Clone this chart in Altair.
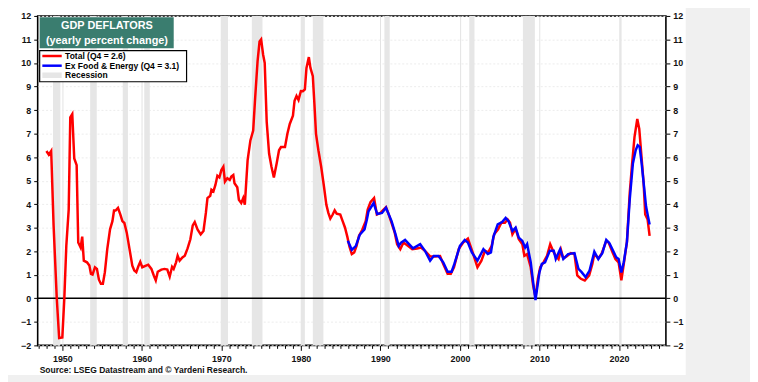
import altair as alt
import pandas as pd

# ---------------- data ----------------
total_year = [1948.0, 1948.3, 1948.6, 1948.9, 1949.3, 1949.6, 1950.0, 1950.25, 1950.5, 1950.8,
              1951.0, 1951.25, 1951.5, 1951.8, 1952.0, 1952.3, 1952.5, 1952.7, 1953.1, 1953.4,
              1953.6, 1953.8, 1954.1, 1954.35, 1954.6, 1954.85, 1955.1, 1955.35, 1955.65, 1956.0,
              1956.3, 1956.5, 1956.7, 1957.0, 1957.3, 1957.55, 1957.8, 1958.1, 1958.45, 1958.8,
              1959.05, 1959.3, 1959.55, 1959.8, 1960.05, 1960.45, 1960.8, 1961.2, 1961.5, 1961.75,
              1962.0, 1962.45, 1962.85, 1963.2, 1963.5, 1963.8, 1964.0, 1964.3, 1964.5, 1964.75,
              1965.1, 1965.4, 1965.75, 1966.1, 1966.4, 1966.65, 1967.0, 1967.4, 1967.75, 1968.05,
              1968.25, 1968.6, 1968.75, 1969.0, 1969.25, 1969.5, 1969.75, 1970.0, 1970.25, 1970.45,
              1970.75, 1971.05, 1971.25, 1971.5, 1971.65, 1972.0, 1972.2, 1972.5, 1972.75, 1972.95,
              1973.3, 1973.65, 1974.0, 1974.25, 1974.55, 1974.8, 1975.0, 1975.25, 1975.45, 1975.7,
              1976.0, 1976.3, 1976.6, 1976.95, 1977.25, 1977.5, 1978.0, 1978.3, 1978.6, 1979.0,
              1979.2, 1979.45, 1979.7, 1980.0, 1980.25, 1980.5, 1980.7, 1981.0, 1981.2, 1981.5,
              1981.7, 1981.9, 1982.2, 1982.55, 1982.9, 1983.2, 1983.45, 1983.7, 1984.0, 1984.25,
              1984.5, 1984.95, 1985.25, 1985.55, 1985.85, 1986.1, 1986.4, 1986.7, 1987.0, 1987.3,
              1987.7, 1988.15, 1988.4, 1988.75, 1989.2, 1989.55, 1990.0, 1990.3, 1990.7, 1991.05,
              1991.25, 1991.8, 1992.1, 1992.5, 1992.9, 1993.45, 1994.0, 1994.6, 1995.1, 1995.6,
              1996.25, 1996.85, 1997.5, 1997.9, 1998.45, 1998.85, 1999.25, 1999.85, 2000.4, 2001.0,
              2001.6, 2002.2, 2002.7, 2003.15, 2003.55, 2004.0, 2004.3, 2004.8, 2005.2, 2005.65,
              2006.0, 2006.3, 2006.6, 2007.0, 2007.4, 2007.85, 2008.1, 2008.45, 2008.9, 2009.2,
              2009.5, 2009.8, 2010.1, 2010.5, 2010.95, 2011.35, 2011.8, 2012.05, 2012.4, 2012.7,
              2013.0, 2013.4, 2013.95, 2014.4, 2014.75, 2015.2, 2015.7, 2016.25, 2016.65, 2016.9,
              2017.4, 2017.8, 2018.4, 2018.7, 2019.2, 2019.55, 2019.95, 2020.3, 2020.6, 2021.0,
              2021.35, 2021.65, 2021.95, 2022.3, 2022.55, 2022.8, 2023.1, 2023.3, 2023.6, 2023.85]
total_val = [6.26, 6.1, 6.26, 3.1, 0.0, -1.69, -1.66, 0.0, 2.23, 3.77,
             7.69, 7.83, 5.94, 5.66, 2.37, 2.16, 2.62, 1.6, 1.53, 1.39,
             1.04, 1.01, 1.32, 1.25, 0.79, 0.62, 0.62, 1.11, 2.09, 2.93,
             3.28, 3.73, 3.73, 3.84, 3.56, 3.28, 3.2, 2.79, 2.09, 1.39,
             1.18, 1.11, 1.35, 1.55, 1.32, 1.38, 1.43, 1.25, 0.97, 0.76,
             1.13, 1.22, 1.25, 1.22, 0.92, 1.34, 1.25, 1.53, 1.81, 1.6,
             1.74, 1.81, 2.12, 2.51, 3.1, 3.24, 2.93, 2.72, 2.86, 3.63,
             4.26, 4.36, 4.61, 4.54, 4.82, 5.21, 5.14, 5.45, 5.59, 4.96,
             5.1, 5.03, 5.17, 5.24, 4.89, 4.72, 4.19, 4.05, 4.26, 3.98,
             5.87, 6.71, 7.13, 8.53, 10.07, 10.91, 11.0, 10.35, 10.0, 7.5,
             6.15, 5.59, 5.13, 5.73, 6.29, 6.43, 6.43, 6.99, 7.41, 7.76,
             8.39, 8.6, 8.43, 8.81, 8.8, 8.88, 9.79, 10.25, 9.79, 9.44,
             8.25, 6.99, 6.29, 5.59, 4.75, 3.98, 3.63, 3.39, 3.56, 3.74,
             3.6, 3.56, 3.28, 3.0, 2.6, 2.2, 1.88, 1.95, 2.23, 2.65,
             2.9, 3.28, 3.77, 4.09, 4.26, 3.56, 3.63, 3.74, 3.87, 3.56,
             3.35, 2.79, 2.3, 2.09, 2.37, 2.23, 2.09, 2.12, 2.16, 2.02,
             1.78, 1.78, 1.8, 1.46, 1.04, 1.04, 1.32, 2.09, 2.37, 2.54,
             1.95, 1.32, 1.6, 2.02, 1.95, 2.23, 2.72, 2.93, 3.21, 3.21,
             3.35, 3.21, 2.72, 2.96, 2.51, 2.3, 1.81, 1.88, 1.32, 0.55,
             0.06, 0.83, 1.32, 1.53, 1.81, 2.3, 1.95, 1.81, 1.67, 2.06,
             1.7, 1.78, 1.92, 1.88, 0.97, 0.83, 0.76, 0.97, 1.46, 1.88,
             1.7, 1.88, 2.44, 2.37, 1.95, 1.67, 1.53, 0.76, 1.46, 2.4,
             4.47, 5.73, 6.85, 7.62, 7.2, 6.15, 4.89, 3.56, 3.35, 2.65]

core_year = [1985.9, 1986.4, 1986.9, 1987.4, 1988.0, 1988.3, 1988.5, 1989.15, 1989.6, 1990.2,
             1990.7, 1991.4, 1991.9, 1992.3, 1992.6, 1993.1, 1993.6, 1994.1, 1995.0, 1995.6,
             1996.25, 1996.7, 1997.3, 1997.9, 1998.45, 1998.95, 1999.3, 2000.0, 2000.6, 2001.0,
             2001.5, 2002.2, 2002.95, 2003.5, 2003.9, 2004.2, 2004.75, 2005.3, 2005.75, 2006.1,
             2006.6, 2007.0, 2007.4, 2007.85, 2008.2, 2008.45, 2008.9, 2009.2, 2009.5, 2010.0,
             2010.3, 2010.7, 2011.3, 2011.8, 2012.05, 2012.6, 2013.0, 2013.6, 2014.4, 2014.9,
             2015.3, 2015.8, 2016.3, 2016.9, 2017.4, 2017.9, 2018.4, 2018.8, 2019.4, 2019.65,
             2019.95, 2020.3, 2020.6, 2021.0, 2021.35, 2021.75, 2022.1, 2022.35, 2022.6, 2022.85,
             2023.15, 2023.4, 2023.6, 2023.85]
core_val = [2.45, 2.06, 2.22, 2.7, 2.93, 3.35, 3.7, 4.05, 3.58, 3.63,
            3.85, 3.28, 2.72, 2.23, 2.37, 2.48, 2.3, 2.12, 2.3, 2.02,
            1.6, 1.8, 1.8, 1.53, 1.13, 1.13, 1.46, 2.23, 2.48, 2.37,
            1.95, 1.6, 2.09, 1.88, 1.95, 2.6, 3.14, 3.24, 3.42, 3.28,
            2.86, 3.0, 2.58, 2.44, 2.16, 2.3, 1.53, 0.69, -0.08, 1.11,
            1.46, 1.53, 2.02, 2.02, 1.67, 2.09, 1.67, 1.88, 1.92, 1.25,
            1.11, 0.9, 1.18, 1.98, 1.67, 1.92, 2.48, 2.34, 1.92, 1.74,
            1.67, 1.1, 1.53, 2.4, 4.19, 5.73, 6.29, 6.5, 6.43, 5.73,
            4.75, 3.91, 3.56, 3.14]

rec_start = [1948.83, 1953.5, 1957.6, 1960.3, 1969.92, 1973.83, 1980.0, 1981.5, 1990.5, 2001.17, 2007.92, 2020.08]
rec_end = [1949.75, 1954.33, 1958.25, 1961.0, 1970.83, 1975.17, 1980.5, 1982.83, 1991.17, 2001.83, 2009.42, 2020.33]

title_lines = ["GDP DEFLATORS", "(yearly percent change)"]
legend_labels = ["Total (Q4 = 2.6)", "Ex Food & Energy (Q4 = 3.1)", "Recession"]
source_text = "Source: LSEG Datastream and \u00a9 Yardeni Research."
y_ticks = list(range(-2, 13))
x_ticks = list(range(1947, 2026))

# ---------------- chart ----------------
W, H = 635, 333
FONT = "Arial, Liberation Sans, sans-serif"
RED, BLUE, REC = "#ff0000", "#0000ff", "#e6e6e6"
LW = 2.5

x_scale = alt.Scale(domain=[1946.9, 2025.9], nice=False, zero=False)
y_scale = alt.Scale(domain=[-2, 12], nice=False, zero=False)

total_df = pd.DataFrame({"year": total_year, "value": total_val})
core_df = pd.DataFrame({"year": core_year, "value": core_val})
rec_df = pd.DataFrame({"start": rec_start, "end": rec_end})
zero_df = pd.DataFrame({"y": [0]})
one = pd.DataFrame({"k": [0]})

decade = "datum.value % 10 === 0"
x_axis = alt.Axis(values=x_ticks, title=None, domain=False,
                  labelExpr=f"{decade} ? '' + datum.value : ''",
                  labelFont=FONT, labelFontSize=9, labelFontWeight="bold", labelColor="#111",
                  labelPadding=4, labelOverlap=False, labelFlush=False,
                  tickColor="#000", tickWidth=1,
                  tickSize={"condition": {"test": decade, "value": 5}, "value": 3},
                  grid=True, gridColor="#e3e3e3",
                  gridOpacity={"condition": {"test": decade, "value": 1}, "value": 0})


def y_axis(orient, grid):
    return alt.Axis(values=y_ticks, title=None, domain=False, orient=orient,
                    labelFont=FONT, labelFontSize=9, labelFontWeight="bold", labelColor="#111",
                    labelPadding=3, tickColor="#000", tickSize=4, tickWidth=1,
                    grid=grid, gridColor="#ececec", gridDash=[2, 2])


rec = alt.Chart(rec_df).mark_rect(color=REC).encode(
    x=alt.X("start:Q", scale=x_scale, axis=x_axis), x2="end:Q",
    y=alt.value(0), y2=alt.value(H))

zero = alt.Chart(zero_df).mark_rule(color="#000", strokeWidth=1.5).encode(
    y=alt.Y("y:Q", scale=y_scale, axis=None))

red = alt.Chart(total_df).mark_line(color=RED, strokeWidth=LW).encode(
    x=alt.X("year:Q", scale=x_scale, axis=x_axis),
    y=alt.Y("value:Q", scale=y_scale, axis=y_axis("left", True)))

blue = alt.Chart(core_df).mark_line(color=BLUE, strokeWidth=LW).encode(
    x=alt.X("year:Q", scale=x_scale, axis=x_axis),
    y=alt.Y("value:Q", scale=y_scale, axis=y_axis("right", False)))

# title box
tbox = alt.Chart(one).mark_rect(color="#3a7d6f").encode(
    x=alt.value(2), x2=alt.value(137.5), y=alt.value(1.3), y2=alt.value(32.7))
t1 = alt.Chart(one).mark_text(font=FONT, fontSize=11, fontWeight="bold", color="white",
                              align="center", baseline="middle").encode(
    x=alt.value(70), y=alt.value(10.5), text=alt.value(title_lines[0]))
t2 = alt.Chart(one).mark_text(font=FONT, fontSize=11, fontWeight="bold", color="white",
                              align="center", baseline="middle").encode(
    x=alt.value(70), y=alt.value(25.5), text=alt.value(title_lines[1]))

# legend box
lbox = alt.Chart(one).mark_rect(fill="white", stroke="#000", strokeWidth=1.2).encode(
    x=alt.value(2), x2=alt.value(150.5), y=alt.value(35), y2=alt.value(66.5))
sw_red = alt.Chart(one).mark_rule(color=RED, strokeWidth=LW).encode(
    x=alt.value(4.7), x2=alt.value(24.3), y=alt.value(40.5))
sw_blue = alt.Chart(one).mark_rule(color=BLUE, strokeWidth=LW).encode(
    x=alt.value(4.7), x2=alt.value(24.3), y=alt.value(50.3))
sw_rec = alt.Chart(one).mark_rect(color=REC).encode(
    x=alt.value(4.7), x2=alt.value(24.3), y=alt.value(57.3), y2=alt.value(62.7))
leg_texts = []
for lab, yy in zip(legend_labels, [40.5, 50.3, 60.0]):
    leg_texts.append(alt.Chart(one).mark_text(font=FONT, fontSize=8.6, fontWeight="bold",
                                              color="#000", align="left", baseline="middle").encode(
        x=alt.value(27.7), y=alt.value(yy), text=alt.value(lab)))

src = alt.Chart(one).mark_text(font=FONT, fontSize=8.6, fontWeight="bold", color="#111",
                               align="left", baseline="middle").encode(
    x=alt.value(2), y=alt.value(357.5), text=alt.value(source_text))

# grey page surround at right and bottom
grey_r = alt.Chart(one).mark_rect(color="#f0f0f0").encode(
    x=alt.value(655), x2=alt.value(740), y=alt.value(-20), y2=alt.value(400))
grey_b = alt.Chart(one).mark_rect(color="#f0f0f0").encode(
    x=alt.value(-40), x2=alt.value(740), y=alt.value(363), y2=alt.value(400))

chart = alt.layer(
    rec, zero, red, blue, tbox, t1, t2, lbox, sw_red, sw_blue, sw_rec, *leg_texts, src, grey_r, grey_b
).resolve_axis(y="independent").properties(
    width=W, height=H,
    autosize=alt.AutoSizeParams(type="none"),
    padding={"left": 30, "top": 6, "right": 85, "bottom": 35},
    background="white",
).configure_view(stroke="#000", strokeWidth=1.6)

chart.save("out.html", embed_options={"renderer": "svg", "actions": False})
